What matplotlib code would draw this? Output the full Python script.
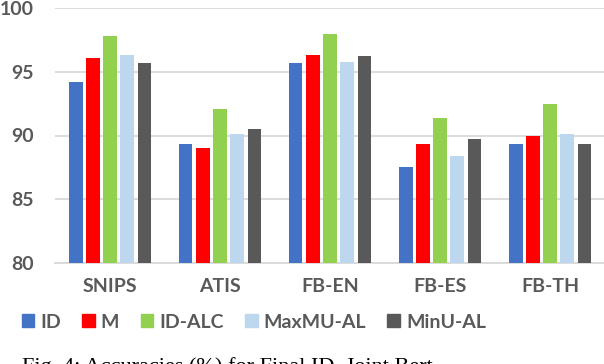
import matplotlib
matplotlib.use('Agg')
import numpy as np
from matplotlib import pyplot as plt
from matplotlib.patches import Patch

datasets = ['SNIPS', 'ATIS', 'FB-EN', 'FB-ES', 'FB-TH']
methods = ['ID', 'M', 'ID-ALC', 'MaxMU-AL', 'MinU-AL']
colors = ['#4472C4', '#FF0000', '#92D050', '#BDD7EE', '#595959']

id_acc = [94.2, 89.3, 95.7, 87.5, 89.3]
m_acc = [96.1, 89.0, 96.3, 89.3, 90.0]
idalc_acc = [97.8, 92.1, 98.0, 91.4, 92.5]
maxmu_acc = [96.3, 90.1, 95.8, 88.4, 90.1]
minu_acc = [95.7, 90.5, 96.2, 89.7, 89.3]
series = [id_acc, m_acc, idalc_acc, maxmu_acc, minu_acc]

grey = '#595959'
fs = 14

fig = plt.figure(figsize=(6.04, 3.64), dpi=100)
ax = fig.add_axes([55 / 604, 101 / 364, 550 / 604, 255 / 364])

x = np.arange(len(datasets))
w = 0.12
step = 0.155
for i, (vals, c) in enumerate(zip(series, colors)):
    ax.bar(x + (i - 2) * step, vals, w, color=c, zorder=3, label=methods[i])

ax.set_ylim(80, 100)
ax.set_xlim(-0.5, 4.5)
ax.set_yticks([80, 85, 90, 95, 100])
ax.yaxis.grid(True, color='#d9d9d9', linewidth=1.3, zorder=0)
for s in ['top', 'right', 'left']:
    ax.spines[s].set_visible(False)
ax.spines['bottom'].set_color('#d9d9d9')
ax.spines['bottom'].set_linewidth(1.3)
ax.tick_params(length=0, labelsize=fs, labelcolor=grey, pad=15)
ax.tick_params(axis='x', pad=11)
ax.set_xticks(x)
ax.set_xticklabels(datasets)
for lab in ax.get_xticklabels() + ax.get_yticklabels():
    lab.set_fontfamily('Lato')
    lab.set_fontweight('bold')

handles = [Patch(color=c) for c in colors]
leg = fig.legend(handles, methods, loc='center left', bbox_to_anchor=(14 / 604, 42 / 364),
                 ncol=5, frameon=False, handlelength=0.65, handleheight=0.65,
                 handletextpad=0.3, columnspacing=1.1, borderaxespad=0,
                 prop={'family': 'Lato', 'weight': 'bold', 'size': fs})
for t in leg.get_texts():
    t.set_color(grey)

fig.text(22 / 604, 7 / 364, 'Fig. 4: Accuracies (%) for Final ID, Joint Bert', ha='left', va='top',
         fontfamily='Liberation Serif', fontsize=16)

fig.savefig('out.png', dpi=100)
